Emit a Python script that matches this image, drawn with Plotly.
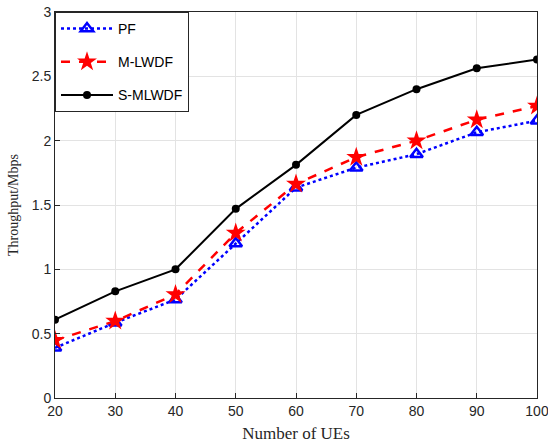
import plotly.graph_objects as go

ues = [20, 30, 40, 50, 60, 70, 80, 90, 100]
pf = [0.39, 0.585, 0.765, 1.20, 1.635, 1.79, 1.895, 2.065, 2.155]
mlwdf = [0.448, 0.598, 0.805, 1.282, 1.663, 1.872, 2.00, 2.163, 2.27]
smlwdf = [0.609, 0.829, 1.00, 1.47, 1.812, 2.20, 2.40, 2.563, 2.63]

xticks = [20, 30, 40, 50, 60, 70, 80, 90, 100]
yticks = [0, 0.5, 1, 1.5, 2, 2.5, 3]
ytick_labels = ["0", "0.5", "1", "1.5", "2", "2.5", "3"]

fig = go.Figure()
fig.add_trace(go.Scatter(
    x=ues, y=pf, name="PF", mode="lines+markers", legendgroup="a",
    line=dict(color="#0000ff", width=2.5, dash="dot"),
    marker=dict(symbol="triangle-up-open", size=11, color="#0000ff",
                line=dict(width=2.5, color="#0000ff"))))
fig.add_trace(go.Scatter(
    x=ues, y=mlwdf, name="M-LWDF", mode="lines+markers", legendgroup="b",
    line=dict(color="#ff0000", width=2.5, dash="dash"),
    marker=dict(symbol="star", size=15, color="#ff0000")))
fig.add_trace(go.Scatter(
    x=ues, y=smlwdf, name="S-MLWDF", mode="lines+markers", legendgroup="c",
    line=dict(color="#000000", width=2),
    marker=dict(symbol="circle", size=8, color="#000000")))

axis_common = dict(
    showline=True, linecolor="#262626", linewidth=1, mirror=True,
    ticks="inside", ticklen=5, tickcolor="#262626",
    showgrid=True, gridcolor="#e3e3e3", gridwidth=1, zeroline=False,
    automargin=False, ticklabeloverflow="allow",
    tickfont=dict(family="Liberation Sans, Arial", size=14, color="#262626"),
)

fig.update_xaxes(range=[20, 100], tickvals=xticks,
                 title=dict(text="Number of UEs", standoff=9,
                            font=dict(family="Liberation Serif, Times New Roman", size=17, color="#262626")),
                 **axis_common)
fig.update_yaxes(range=[0, 3], tickvals=yticks, ticktext=ytick_labels,
                 title=dict(text="Throughput/Mbps", standoff=9,
                            font=dict(family="Liberation Serif, Times New Roman", size=14, color="#262626")),
                 **axis_common)

fig.update_layout(
    width=548, height=447,
    margin=dict(l=55, r=11, t=12, b=49),
    paper_bgcolor="white", plot_bgcolor="white",
    showlegend=True,
    legend=dict(x=0, y=1, xanchor="left", yanchor="top",
                bgcolor="white", bordercolor="#262626", borderwidth=1,
                font=dict(family="Liberation Sans, Arial", size=14, color="#000000"),
                itemwidth=52, tracegroupgap=12, traceorder="grouped"),
)

fig.write_html("out.html", config={"displayModeBar": False},
               post_script="document.body.style.margin='0';document.body.style.overflow='hidden';")
